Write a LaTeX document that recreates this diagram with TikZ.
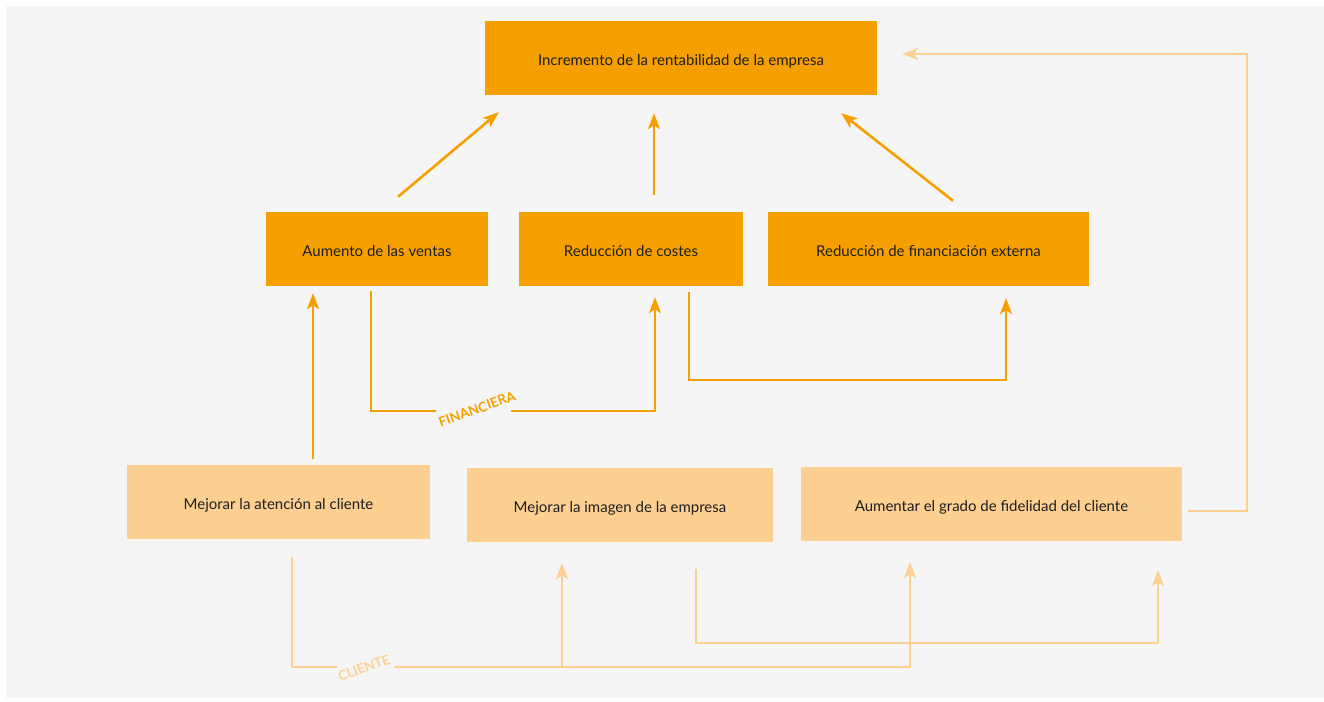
\documentclass[tikz,border=0pt]{standalone}
\usepackage{fontspec}
\setmainfont{Lato}
\usetikzlibrary{arrows.meta,calc}

\definecolor{panel}{HTML}{F5F5F5}
\definecolor{deep}{HTML}{F5A000}
\definecolor{soft}{HTML}{FDD092}
\definecolor{ink}{HTML}{1E1E1E}

\tikzset{
  box/.style={rectangle, inner sep=0pt, minimum height=74pt, text=ink,
    text height=15pt, text depth=0pt,
    font=\fontsize{15}{18}\selectfont},
  strongbox/.style={box, fill=deep},
  lightbox/.style={box, fill=soft},
  link/.style={line width=2.6pt, -{Stealth[length=16pt,width=12pt,inset=4pt]}},
  plain/.style={line width=2.6pt},
  tag/.style={font=\bfseries\fontsize{13.5}{16}\selectfont, rotate=20, inner sep=0pt}
}

\begin{document}
\begin{tikzpicture}[x=1pt, y=-1pt]
  \useasboundingbox (0,0) rectangle (1324,701);
  \fill[white] (0,0) rectangle (1324,701);
  \fill[panel] (6,6) rectangle (1324,698);

  % goal
  \node[strongbox, minimum width=392pt] (top) at (681,58) {Incremento de la rentabilidad de la empresa};

  % financial perspective
  \node[strongbox, minimum width=222pt] (aum) at (377,249) {Aumento de las ventas};
  \node[strongbox, minimum width=224pt] (red) at (631,249) {Reducción de costes};
  \node[strongbox, minimum width=321pt] (fin) at (928.5,249) {Reducción de financiación externa};

  % customer perspective
  \node[lightbox, minimum width=303pt] (aten) at (278.5,502) {Mejorar la atención al cliente};
  \node[lightbox, minimum width=306pt] (imag) at (620,505) {Mejorar la imagen de la empresa};
  \node[lightbox, minimum width=381pt] (fid) at (991.5,504) {Aumentar el grado de fidelidad del cliente};

  % financial links to the goal
  \draw[link, deep] ([shift={(21,-15)}]aum.north) -- ([shift={(14,17)}]top.south west);
  \draw[link, deep] ([shift={(23,-17)}]red.north) -- ([shift={(-27,18)}]top.south);
  \draw[link, deep] ([shift={(24.5,-11)}]fin.north) -- ([shift={(-36,18)}]top.south east);

  % customer care raises sales
  \draw[link, deep] ([shift={(34.5,-6)}]aten.north) -- ([shift={(-64,7)}]aum.south);

  % sales to costs, interrupted by the label
  \coordinate (fa) at ([shift={(-6,5)}]aum.south);
  \coordinate (fb) at ([shift={(24,11)}]red.south);
  \draw[plain, deep] (fa) -- (fa |- 0,411) -- (436,411);
  \draw[link, deep] (511,411) -- (fb |- 0,411) -- (fb);
  \node[tag, text=deep] (ftag) at (477,409) {FINANCIERA};

  % costs to external financing
  \coordinate (ga) at ([shift={(58,6)}]red.south);
  \coordinate (gb) at ([shift={(77.5,12)}]fin.south);
  \draw[link, deep] (ga) -- (ga |- 0,380) -- (gb |- 0,380) -- (gb);

  % loyalty back to the goal
  \coordinate (ha) at ([shift={(6,7)}]fid.east);
  \coordinate (hb) at ([shift={(25,-4)}]top.east);
  \draw[link, soft] (ha) -- (1247,0 |- ha) -- (1247,0 |- hb) -- (hb);

  % customer care to image and loyalty
  \coordinate (ka) at ([shift={(13.5,18)}]aten.south);
  \coordinate (kb) at ([shift={(-81.5,21)}]fid.south);
  \coordinate (kc) at ([shift={(-58,21)}]imag.south);
  \draw[plain, soft] (ka) -- (ka |- 0,667) -- (337,667);
  \draw[link, soft] (394,667) -- (kb |- 0,667) -- (kb);
  \draw[link, soft] (kc |- 0,667) -- (kc);
  \node[tag, text=soft] (ctag) at (364,668) {CLIENTE};

  % image to loyalty
  \coordinate (ma) at ([shift={(76,27)}]imag.south);
  \coordinate (mb) at ([shift={(166.5,29)}]fid.south);
  \draw[link, soft] (ma) -- (ma |- 0,643) -- (mb |- 0,643) -- (mb);
\end{tikzpicture}
\end{document}
